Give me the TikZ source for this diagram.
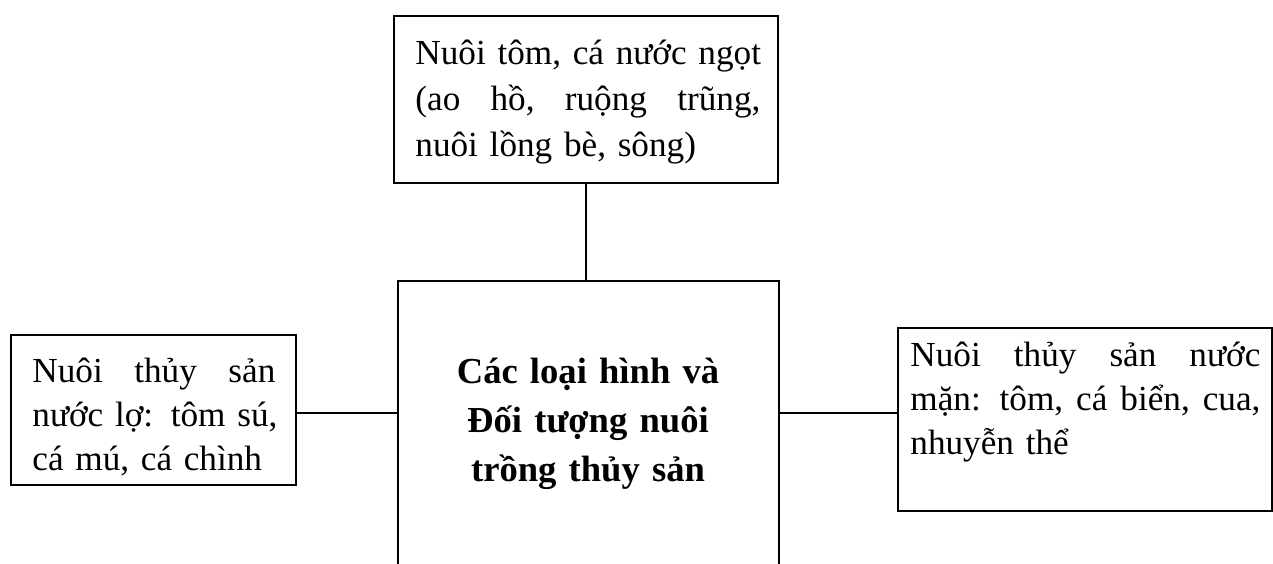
\documentclass[tikz,border=0pt]{standalone}
\usepackage{fontspec}
\setmainfont{Liberation Serif}
\newcommand{\jline}[1]{\leavevmode\hbox to\linewidth{#1}}
\begin{document}
\begin{tikzpicture}[x=0.5pt,y=-0.5pt,
  box/.style={draw, line width=1pt, inner sep=0pt, rectangle},
  conn/.style={draw, line width=1pt},
  txt/.style={inner sep=0pt, anchor=base west, align=left},
  ctxt/.style={inner sep=0pt, anchor=base, font=\bfseries\fontsize{18.3}{24.5}\selectfont, align=center}]
\useasboundingbox (0,0) rectangle (1273,563);
\fill[white] (0,0) rectangle (1273,563);
\clip (0,0) rectangle (1273,563);
% boxes
\node[box, minimum width=192pt, minimum height=83.5pt] (top) at (586,99.5) {};
\node[box, minimum width=190.5pt, minimum height=179.5pt] (mid) at (588.5,460.5) {};
\node[box, minimum width=142.5pt, minimum height=75pt] (left) at (153.5,410) {};
\node[box, minimum width=187pt, minimum height=91.5pt] (right) at (1085,419.5) {};
% texts
\node[txt, text width=172.5pt, font=\fontsize{17.6}{23}\selectfont] (toptext) at (415,64) {%
\jline{Nuôi \hfill tôm, \hfill cá \hfill nước \hfill ngọt}\\
\jline{(ao \hfill hồ, \hfill ruộng \hfill trũng,}\\
nuôi lồng bè, sông)};
\node[txt, text width=121.5pt, font=\fontsize{17.6}{22}\selectfont] (lefttext) at (32,382) {%
\jline{Nuôi \hfill thủy \hfill sản}\\
\jline{nước \hfill lợ: \hfill tôm \hfill sú,}\\
cá mú, cá chình};
\node[txt, text width=175pt, font=\fontsize{17.6}{22}\selectfont] (righttext) at (910,366) {%
\jline{Nuôi \hfill thủy \hfill sản \hfill nước}\\
\jline{mặn: \hfill tôm, \hfill cá \hfill biển, \hfill cua,}\\
nhuyễn thể};
\node[ctxt, text width=180pt] (midtext) at (588,383) {Các loại hình và\\Đối tượng nuôi\\trồng thủy sản};
% connectors
\coordinate (hj) at (0,413);
\draw[conn] (top.south) -- (top.south |- mid.north);
\draw[conn] (left.east |- hj) -- (mid.west |- hj);
\draw[conn] (mid.east |- hj) -- (right.west |- hj);
\end{tikzpicture}
\end{document}
